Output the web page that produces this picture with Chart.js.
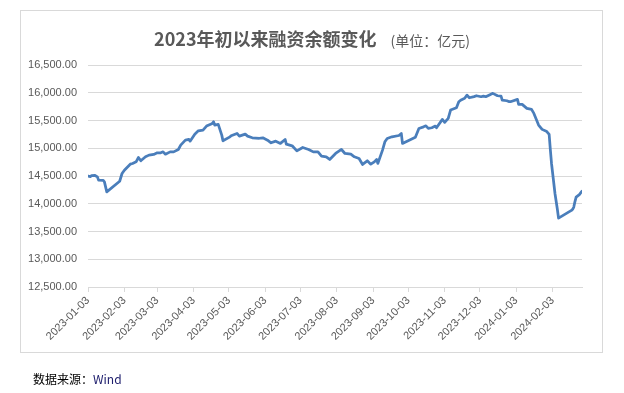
<!DOCTYPE html>
<html>
<head>
<meta charset="utf-8">
<script src="https://cdn.jsdelivr.net/npm/chart.js@4.4.1/dist/chart.umd.min.js"></script>
<style>
  html, body { margin: 0; padding: 0; background: #fff; }
  body { width: 624px; height: 393px; position: relative; overflow: hidden; }
  #box { position: absolute; left: 20px; top: 10px; width: 583px; height: 343px; border: 1px solid #d9d9d9; box-sizing: border-box; }
  #c { position: absolute; left: 0; top: 0; }
  #title { position: absolute; left: 0; width: 624px; top: 26px; line-height: 24px; text-align: center; color: #595959; font-family: "Noto Sans CJK SC", sans-serif; white-space: nowrap; }
  #title b { font-size: 18px; font-weight: bold; }
  #title span { font-size: 14px; margin-left: 14px; }
  #src { position: absolute; left: 33px; top: 370px; font-size: 12px; line-height: 18px; font-family: "Noto Sans CJK SC", sans-serif; color: #000; }
  #src .w { color: #20206e; }
</style>
</head>
<body>
<div id="box"></div>
<canvas id="c" width="624" height="393"></canvas>
<div id="title"><b>2023年初以来融资余额变化</b><span>(单位：亿元)</span></div>
<div id="src">数据来源：<span class="w">Wind</span></div>
<script>
const DATES = ['2023-01-03','2023-01-05','2023-01-06','2023-01-09','2023-01-11','2023-01-12','2023-01-16','2023-01-17','2023-01-19','2023-01-30',
'2023-02-01','2023-02-03','2023-02-08','2023-02-10','2023-02-13','2023-02-15','2023-02-17','2023-02-21','2023-02-24','2023-02-28',
'2023-03-03','2023-03-06','2023-03-08','2023-03-10','2023-03-14','2023-03-17','2023-03-21','2023-03-23','2023-03-27','2023-03-30','2023-03-31',
'2023-04-04','2023-04-07','2023-04-11','2023-04-14','2023-04-19','2023-04-20','2023-04-21','2023-04-24','2023-04-27','2023-04-28',
'2023-05-04','2023-05-05','2023-05-10','2023-05-12','2023-05-17','2023-05-19','2023-05-23','2023-05-29',
'2023-06-01','2023-06-05','2023-06-08','2023-06-12','2023-06-16','2023-06-20','2023-06-21','2023-06-26','2023-06-30',
'2023-07-05','2023-07-10','2023-07-14','2023-07-18','2023-07-21','2023-07-25','2023-07-28',
'2023-08-02','2023-08-07','2023-08-10','2023-08-15','2023-08-18','2023-08-22','2023-08-25','2023-08-29',
'2023-09-01','2023-09-04','2023-09-06','2023-09-07','2023-09-11','2023-09-13','2023-09-15','2023-09-19','2023-09-25','2023-09-27','2023-09-28',
'2023-10-09','2023-10-12','2023-10-16','2023-10-18','2023-10-20','2023-10-23','2023-10-26','2023-10-27',
'2023-11-01','2023-11-03','2023-11-06','2023-11-08','2023-11-13','2023-11-15','2023-11-17','2023-11-20','2023-11-22','2023-11-24','2023-11-28','2023-11-30',
'2023-12-04','2023-12-06','2023-12-08','2023-12-12','2023-12-14','2023-12-18','2023-12-21','2023-12-22','2023-12-26','2023-12-28','2023-12-29',
'2024-01-04','2024-01-05','2024-01-08','2024-01-12','2024-01-16','2024-01-18','2024-01-22','2024-01-25','2024-01-29','2024-01-31',
'2024-02-01','2024-02-02','2024-02-05','2024-02-06','2024-02-07','2024-02-08','2024-02-19','2024-02-20','2024-02-21','2024-02-22','2024-02-23','2024-02-26','2024-02-27','2024-02-28'];

const BALANCE = [14500,14490,14505,14510,14485,14425,14420,14395,14215,14405,
14545,14605,14713,14725,14755,14834,14774,14846,14876,14888,
14917,14917,14935,14893,14935,14935,14978,15056,15146,15160,15128,
15254,15314,15327,15399,15448,15477,15417,15430,15236,15134,
15205,15225,15267,15218,15254,15218,15188,15180,
15188,15146,15098,15128,15087,15159,15074,15044,14953,
15014,14978,14935,14935,14857,14846,14798,
14906,14978,14906,14893,14846,14816,14708,14774,
14713,14755,14798,14726,14966,15116,15177,15206,15230,15267,15087,
15200,15357,15386,15404,15357,15369,15399,15369,
15520,15466,15538,15688,15729,15838,15870,15900,15958,15910,15930,15946,
15928,15940,15928,15970,15989,15946,15940,15868,15856,15838,15838,
15880,15790,15790,15718,15700,15628,15417,15340,15300,15249,
14980,14730,14180,14040,13900,13740,13880,13900,13940,14040,14120,14170,14200,14225];

const TICK_LABELS = ['2023-01-03','2023-02-03','2023-03-03','2023-04-03','2023-05-03','2023-06-03','2023-07-03',
'2023-08-03','2023-09-03','2023-10-03','2023-11-03','2023-12-03','2024-01-03','2024-02-03'];

const Y_MIN = 12500, Y_MAX = 16500, Y_STEP = 500;

function dayOf(s) {
  const p = s.split('-').map(Number);
  return Math.round((Date.UTC(p[0], p[1] - 1, p[2]) - Date.UTC(2023, 0, 3)) / 86400000);
}
const labelByDay = {};
TICK_LABELS.forEach(l => { labelByDay[dayOf(l)] = l; });

const points = DATES.map((d, i) => ({ x: dayOf(d), y: BALANCE[i] }));
const tickFont = { family: '"Liberation Sans", Arial, sans-serif', size: 11 };

new Chart(document.getElementById('c'), {
  type: 'line',
  data: {
    datasets: [{
      data: points,
      borderColor: '#4a7ebb',
      borderWidth: 2.75,
      pointRadius: 0,
      tension: 0,
      fill: false,
      borderJoinStyle: 'round',
      borderCapStyle: 'round'
    }]
  },
  options: {
    responsive: false,
    animation: false,
    layout: { padding: { left: 0, top: 65, right: 42, bottom: 0 } },
    plugins: { legend: { display: false }, title: { display: false }, tooltip: { enabled: false } },
    scales: {
      x: {
        type: 'linear',
        min: 0,
        max: dayOf(DATES[DATES.length - 1]),
        afterBuildTicks: s => { s.ticks = TICK_LABELS.map(l => ({ value: dayOf(l) })); },
        afterFit: s => { s.height = 106; },
        ticks: {
          autoSkip: false,
          minRotation: 45,
          maxRotation: 45,
          padding: 2,
          color: '#595959',
          font: tickFont,
          callback: v => labelByDay[v] || ''
        },
        grid: { drawOnChartArea: false, drawTicks: true, tickLength: 5, color: '#d9d9d9' },
        border: { display: true, color: '#d9d9d9', width: 1 }
      },
      y: {
        min: Y_MIN,
        max: Y_MAX,
        afterFit: s => { s.width = 88; },
        ticks: {
          stepSize: Y_STEP,
          padding: 11,
          color: '#595959',
          font: tickFont,
          callback: v => Number(v).toLocaleString('en-US', { minimumFractionDigits: 2, maximumFractionDigits: 2 })
        },
        grid: { color: '#d9d9d9', drawTicks: false, lineWidth: 1 },
        border: { display: false }
      }
    }
  }
});
</script>
</body>
</html>
